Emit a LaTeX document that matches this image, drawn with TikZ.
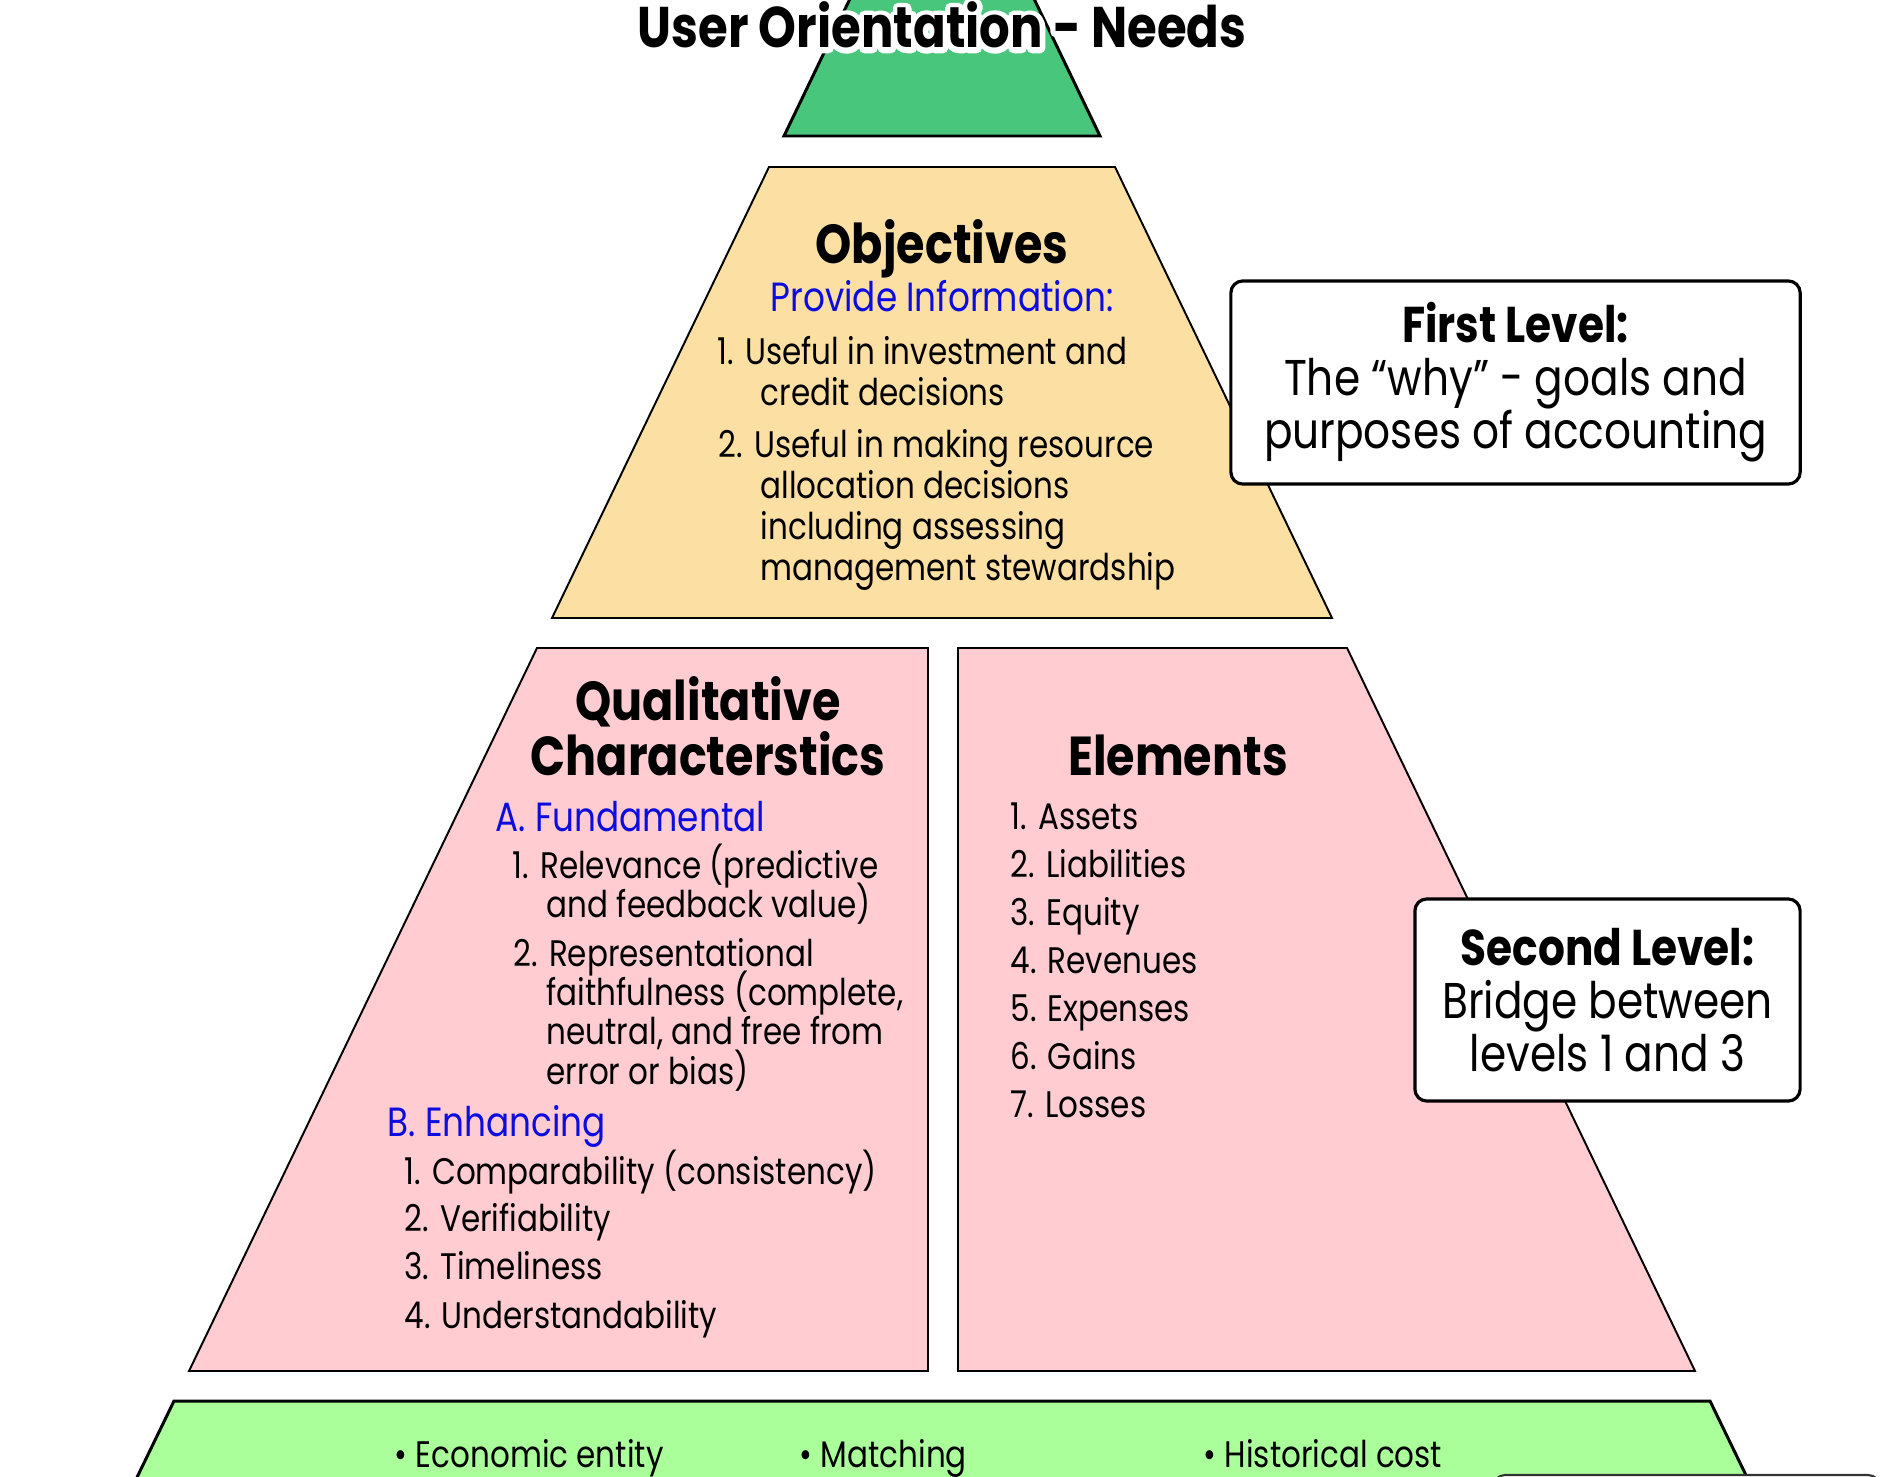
\documentclass[tikz,border=0pt]{standalone}
\usepackage{fontspec}
\setmainfont{Poppins}[FakeStretch=0.84]
\newcommand{\toplines}[1]{\parbox[t]{6cm}{\lineskiplimit=-20pt\relax\raggedright #1}}
\newcommand{\halotext}[1]{\special{pdf:literal direct 2 Tr 3 w 1 j}#1\special{pdf:literal direct 0 Tr}}

\definecolor{topgreen}{RGB}{72,198,124}
\definecolor{objtan}{RGB}{252,224,163}
\definecolor{qualpink}{RGB}{255,204,209}
\definecolor{basegreen}{RGB}{170,255,155}
\definecolor{subblue}{RGB}{12,12,225}

\tikzset{
  layer/.style={draw=black, line width=0.55pt, line join=miter},
  heavylayer/.style={draw=black, line width=0.85pt, line join=miter},
  titletext/.style={font=\bfseries\fontsize{16.3}{18}\selectfont, inner sep=0pt, anchor=base},
  heading/.style={font=\bfseries\fontsize{15.6}{17}\selectfont, inner sep=0pt, anchor=base},
  subhead/.style={font=\fontsize{11.6}{13}\selectfont, text=subblue, inner sep=0pt, anchor=base west},
  listtext/.style={font=\fontsize{10.5}{11.2}\selectfont, inner sep=0pt, anchor=base west},
  objtext/.style={listtext, font=\fontsize{10.5}{11.7}\selectfont},
  levelbox/.style={draw=black, line width=0.9pt, fill=white, rounded corners=3.4pt, align=center,
    inner sep=0pt, font=\fontsize{14.3}{15.1}\selectfont},
}

\begin{document}
\begin{tikzpicture}[x=0.01cm,y=-0.01cm]
\useasboundingbox (0,0) rectangle (1889,1476);

% top of the pyramid
\draw[heavylayer, fill=topgreen] (784,136) -- (859,-20) -- (1025,-20) -- (1100,136) -- cycle;
\node[titletext, text=white] (halo) at (942,48) {\halotext{User Orientation - Needs}};
\node[titletext] (title) at (942,48) {User Orientation - Needs};

% first level
\draw[layer, fill=objtan] (769,167) -- (1115,167) -- (1332,618) -- (552,618) -- cycle;
\node[heading] (objhead) at (942,263) {Objectives};
\node[subhead, anchor=base] (provide) at (942,311) {Provide Information:};
\node[objtext] (obj1) at (717,364) {\toplines{1. Useful in investment and\\\hspace*{0.43cm}credit decisions}};
\node[objtext] (obj2) at (718,457) {\toplines{2. Useful in making resource\\\hspace*{0.42cm}allocation decisions\\
  \hspace*{0.42cm}including assessing\\\hspace*{0.42cm}management stewardship}};

\node[levelbox, minimum width=5.69cm, minimum height=2.03cm] (first) at (1515.5,382.5)
  {\textbf{First Level:}\\The “why” - goals and\\purposes of accounting};

% second level
\draw[layer, fill=qualpink] (537,648) -- (928,648) -- (928,1371) -- (189,1371) -- cycle;
\draw[layer, fill=qualpink] (958,648) -- (1347,648) -- (1695,1371) -- (958,1371) -- cycle;

\node[heading] (qualhead) at (708,720) {Qualitative};
\node[heading] (charhead) at (708,775) {Characterstics};
\node[subhead] (fund) at (495,831) {A. Fundamental};
\node[listtext] (fund1) at (512,878) {\toplines{1. Relevance (predictive\\\hspace*{0.34cm}and feedback value)}};
\node[listtext] (fund2) at (513,966) {\toplines{2. Representational\\\hspace*{0.33cm}faithfulness (complete,\\
  \hspace*{0.33cm}neutral, and free from\\\hspace*{0.33cm}error or bias)}};
\node[subhead] (enh) at (387,1136) {B. Enhancing};
\node[listtext] (enh1) at (404,1184) {1. Comparability (consistency)};
\node[listtext] (enh2) at (404,1231) {2. Verifiability};
\node[listtext] (enh3) at (404,1279) {3. Timeliness};
\node[listtext] (enh4) at (404,1328) {4. Understandability};

\node[heading] (elemhead) at (1178,775) {Elements};
\node[listtext] (elem1) at (1010,829) {1. Assets};
\node[listtext] (elem2) at (1010,877) {2. Liabilities};
\node[listtext] (elem3) at (1010,925) {3. Equity};
\node[listtext] (elem4) at (1010,973) {4. Revenues};
\node[listtext] (elem5) at (1010,1021) {5. Expenses};
\node[listtext] (elem6) at (1010,1069) {6. Gains};
\node[listtext] (elem7) at (1010,1117) {7. Losses};

\node[levelbox, minimum width=3.85cm, minimum height=2.02cm] (second) at (1607.5,1000)
  {\textbf{Second Level:}\\Bridge between\\levels 1 and 3};

% third level
\draw[heavylayer, fill=basegreen] (174,1401) -- (1710,1401) -- (1758,1500) -- (126,1500) -- cycle;
\node[listtext] (entity) at (394,1467) {\textbullet\ Economic entity};
\node[listtext] (matching) at (799,1467) {\textbullet\ Matching};
\node[listtext] (histcost) at (1203,1467) {\textbullet\ Historical cost};
\draw[draw=black!80, line width=0.6pt, rounded corners=3.4pt, fill=white] (1493,1475) rectangle (1880,1600);
\end{tikzpicture}
\end{document}
